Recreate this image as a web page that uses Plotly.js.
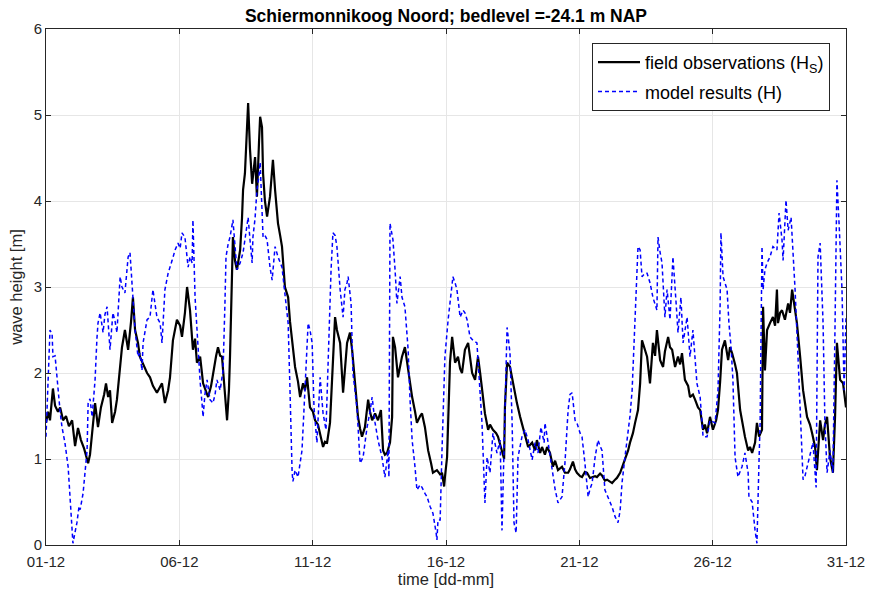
<!DOCTYPE html>
<html>
<head>
<meta charset="utf-8">
<script src="https://cdn.plot.ly/plotly-3.0.1.min.js"></script>
<style>html,body{margin:0;padding:0;background:#fff;}#chart{width:869px;height:593px;}</style>
</head>
<body>
<div id="chart"></div>
<script>
// time in days since 01-12 00:00
const tickDays = [0, 5, 10, 15, 20, 25, 30];
const tickLabels = ['01-12', '06-12', '11-12', '16-12', '21-12', '26-12', '31-12'];
const yTicks = [0, 1, 2, 3, 4, 5, 6];

// field observations (Hs) [m]
const tObs = [0.00,0.08,0.15,0.26,0.34,0.45,0.53,0.64,0.75,0.86,0.98,1.09,1.20,1.31,1.43,1.50,1.58,1.65,1.76,1.84,1.95,2.06,2.18,2.25,2.33,2.40,2.48,2.59,2.66,2.78,2.85,2.96,3.08,3.19,3.26,3.34,3.45,3.52,3.64,3.79,3.90,4.01,4.16,4.28,4.35,4.46,4.58,4.65,4.76,4.91,5.03,5.10,5.21,5.29,5.40,5.51,5.59,5.66,5.78,5.89,6.00,6.08,6.19,6.26,6.38,6.45,6.53,6.60,6.68,6.79,6.86,6.90,7.01,7.09,7.16,7.28,7.35,7.39,7.46,7.54,7.58,7.65,7.73,7.84,7.91,7.99,8.03,8.10,8.14,8.21,8.29,8.40,8.48,8.51,8.59,8.70,8.78,8.85,8.96,9.08,9.15,9.23,9.34,9.45,9.53,9.64,9.71,9.79,9.90,10.01,10.09,10.20,10.28,10.39,10.46,10.54,10.65,10.73,10.84,10.91,11.03,11.14,11.29,11.40,11.48,11.59,11.70,11.78,11.85,11.96,12.08,12.15,12.23,12.34,12.45,12.56,12.64,12.71,12.79,12.90,12.98,13.01,13.09,13.20,13.28,13.35,13.46,13.58,13.65,13.73,13.84,13.91,14.03,14.10,14.21,14.33,14.44,14.51,14.66,14.78,14.85,14.93,14.96,15.04,15.08,15.15,15.23,15.34,15.45,15.53,15.60,15.71,15.83,15.90,15.98,16.09,16.20,16.28,16.35,16.46,16.58,16.65,16.76,16.88,16.95,17.10,17.18,17.21,17.29,17.40,17.51,17.66,17.78,17.89,17.96,18.08,18.23,18.34,18.41,18.53,18.60,18.71,18.79,18.90,19.01,19.09,19.20,19.35,19.46,19.58,19.65,19.76,19.84,19.91,20.03,20.10,20.21,20.29,20.40,20.48,20.59,20.66,20.78,20.85,20.96,21.04,21.15,21.23,21.34,21.41,21.53,21.60,21.71,21.83,21.90,22.01,22.09,22.20,22.28,22.35,22.46,22.54,22.65,22.76,22.84,22.91,23.03,23.14,23.21,23.33,23.40,23.48,23.59,23.70,23.78,23.85,23.96,24.08,24.15,24.26,24.34,24.45,24.53,24.64,24.71,24.79,24.90,25.01,25.13,25.20,25.28,25.35,25.46,25.58,25.65,25.73,25.84,25.91,26.03,26.14,26.21,26.33,26.40,26.48,26.59,26.66,26.74,26.85,26.89,26.96,27.04,27.15,27.26,27.34,27.41,27.45,27.53,27.60,27.71,27.83,27.90,27.98,28.05,28.16,28.28,28.39,28.54,28.65,28.73,28.84,28.91,29.03,29.14,29.21,29.29,29.40,29.51,29.59,29.66,29.78,29.89,30.00];
const hObs = [1.42,1.55,1.45,1.82,1.62,1.55,1.60,1.45,1.50,1.38,1.45,1.15,1.36,1.22,1.12,1.05,0.95,1.05,1.40,1.65,1.37,1.60,1.75,1.88,1.72,1.80,1.42,1.55,1.69,2.05,2.30,2.50,2.27,2.60,2.88,2.50,2.35,2.19,2.10,2.00,1.95,1.85,1.77,1.85,1.88,1.65,1.80,1.95,2.38,2.62,2.55,2.42,2.70,3.00,2.73,2.27,2.40,2.12,2.19,1.88,1.80,1.72,1.85,2.00,2.20,2.30,2.20,2.19,1.90,1.45,1.80,2.19,3.58,3.30,3.20,3.43,3.80,4.13,4.32,4.90,5.14,4.60,4.20,4.51,4.05,4.70,4.98,4.86,4.32,4.00,3.82,4.05,4.30,4.48,4.13,3.74,3.60,3.47,3.00,2.88,2.60,2.35,2.07,1.90,1.72,1.88,1.80,1.95,1.60,1.55,1.45,1.40,1.30,1.14,1.20,1.19,1.42,2.00,2.65,2.50,2.35,1.77,2.35,2.47,2.27,1.88,1.49,1.35,1.26,1.37,1.69,1.55,1.45,1.53,1.45,1.57,1.10,1.05,1.07,1.19,1.49,2.42,2.30,1.95,2.10,2.19,2.30,2.03,1.90,1.72,1.55,1.42,1.50,1.53,1.37,1.10,0.95,0.84,0.87,0.82,0.84,0.68,0.79,1.02,1.42,2.12,2.42,2.12,2.19,2.05,2.00,2.27,2.35,2.15,2.00,1.92,2.19,2.00,1.80,1.53,1.34,1.40,1.34,1.30,1.26,1.10,1.00,1.60,2.12,2.07,1.88,1.65,1.49,1.35,1.26,1.14,1.19,1.10,1.22,1.07,1.14,1.05,1.14,1.07,0.91,0.98,0.87,0.91,0.84,0.84,0.88,0.97,0.88,0.84,0.80,0.79,0.85,0.84,0.78,0.79,0.80,0.79,0.83,0.81,0.75,0.76,0.74,0.72,0.76,0.78,0.84,0.90,0.99,1.10,1.19,1.30,1.42,1.57,1.88,2.38,2.27,2.19,1.88,2.35,2.20,2.50,2.15,2.07,2.25,2.42,2.30,2.27,2.07,2.19,2.10,2.23,1.92,1.85,1.72,1.75,1.69,1.60,1.57,1.34,1.40,1.30,1.49,1.34,1.45,1.57,1.90,2.27,2.38,2.15,2.30,2.23,2.10,2.00,1.57,1.35,1.26,1.10,1.14,1.07,1.19,1.42,1.26,1.34,2.77,2.03,2.50,2.58,2.65,2.55,2.97,2.58,2.70,2.73,2.62,2.81,2.70,2.97,2.81,2.58,2.19,1.80,1.49,1.40,1.30,1.14,0.87,1.45,1.22,1.40,1.49,1.02,0.84,1.50,2.35,1.92,1.88,1.60];

// model results (H) [m]
const tMod = [0.00,0.08,0.15,0.23,0.26,0.34,0.41,0.45,0.53,0.60,0.71,0.83,0.90,0.98,1.01,1.09,1.16,1.24,1.28,1.39,1.46,1.54,1.58,1.65,1.73,1.84,1.91,1.95,2.03,2.14,2.21,2.29,2.40,2.51,2.59,2.66,2.78,2.85,2.96,3.08,3.15,3.23,3.34,3.45,3.52,3.60,3.64,3.79,3.90,4.01,4.09,4.16,4.28,4.35,4.46,4.58,4.73,4.84,4.95,5.03,5.10,5.21,5.33,5.40,5.48,5.51,5.59,5.70,5.78,5.85,5.89,5.96,6.04,6.15,6.26,6.34,6.41,6.53,6.60,6.64,6.71,6.75,6.83,6.90,7.01,7.09,7.16,7.28,7.39,7.46,7.58,7.65,7.73,7.76,7.84,7.91,7.99,8.03,8.10,8.14,8.21,8.29,8.40,8.48,8.59,8.70,8.85,8.96,9.08,9.15,9.19,9.23,9.26,9.34,9.45,9.53,9.60,9.71,9.83,9.90,9.98,10.05,10.16,10.28,10.39,10.50,10.61,10.69,10.76,10.84,10.91,11.03,11.14,11.21,11.29,11.33,11.44,11.51,11.66,11.78,11.89,12.04,12.15,12.23,12.34,12.45,12.60,12.71,12.83,12.86,12.90,13.01,13.09,13.16,13.28,13.35,13.46,13.58,13.65,13.73,13.84,13.91,14.03,14.10,14.21,14.29,14.40,14.51,14.63,14.66,14.70,14.78,14.85,14.96,15.08,15.15,15.26,15.34,15.41,15.53,15.64,15.71,15.79,15.90,16.01,16.16,16.20,16.28,16.35,16.46,16.54,16.65,16.76,16.91,17.03,17.10,17.18,17.21,17.29,17.40,17.48,17.55,17.63,17.70,17.85,17.96,18.08,18.23,18.34,18.45,18.56,18.68,18.71,18.83,18.90,19.01,19.09,19.20,19.35,19.46,19.58,19.65,19.73,19.84,19.91,20.03,20.10,20.21,20.33,20.40,20.48,20.59,20.70,20.78,20.85,20.96,21.08,21.15,21.23,21.34,21.45,21.53,21.60,21.71,21.83,21.90,21.98,22.09,22.16,22.20,22.28,22.35,22.46,22.54,22.65,22.76,22.91,22.95,23.03,23.10,23.21,23.29,23.40,23.51,23.63,23.70,23.81,23.89,24.04,24.15,24.26,24.41,24.53,24.64,24.79,24.90,25.09,25.20,25.28,25.31,25.39,25.54,25.61,25.69,25.76,25.84,25.95,26.10,26.21,26.33,26.36,26.48,26.59,26.66,26.74,26.78,26.85,26.89,26.96,27.04,27.15,27.26,27.41,27.49,27.60,27.64,27.75,27.83,27.94,28.01,28.09,28.20,28.31,28.39,28.46,28.54,28.65,28.76,28.88,28.95,29.03,29.14,29.21,29.29,29.40,29.51,29.59,29.66,29.74,29.85,29.93,30.00];
const hMod = [1.26,1.90,2.50,2.45,2.19,2.20,1.95,1.80,1.55,1.37,1.19,0.91,0.55,0.26,0.02,0.15,0.26,0.45,0.41,0.60,0.85,1.10,1.65,1.70,1.49,1.92,2.40,2.58,2.70,2.47,2.68,2.77,2.27,2.70,2.60,2.47,3.12,3.00,2.93,3.35,3.40,2.97,2.50,2.19,2.23,2.03,2.35,2.62,2.65,2.97,2.80,2.65,2.58,2.35,2.97,3.16,3.31,3.43,3.51,3.45,3.63,3.58,3.23,3.35,3.28,3.78,2.88,2.27,1.90,1.65,1.49,1.75,1.92,1.69,1.65,1.75,1.92,1.80,1.95,2.03,2.80,3.35,3.50,3.58,3.78,3.40,3.20,3.28,3.40,3.55,3.81,3.55,3.28,3.58,3.80,4.13,4.30,4.45,4.00,3.58,3.60,3.55,3.23,3.08,3.47,3.35,3.23,2.93,2.58,1.80,1.20,0.84,0.74,0.87,0.79,0.95,1.10,1.80,2.58,2.50,2.35,1.60,1.19,1.95,1.53,1.34,2.58,3.20,3.63,3.60,3.47,2.97,2.65,2.97,3.05,3.12,2.81,2.00,1.60,0.95,1.02,1.37,1.55,1.72,1.42,1.22,1.02,0.79,1.10,0.79,3.74,3.55,3.20,2.81,3.12,2.88,2.77,2.27,1.70,1.22,0.90,0.64,0.70,0.67,0.60,0.56,0.45,0.37,0.14,0.06,0.29,0.29,1.10,2.19,2.62,2.80,3.12,3.05,2.97,2.65,2.73,2.70,2.62,2.42,2.38,2.35,2.12,1.80,1.42,0.49,1.02,0.84,1.30,1.07,1.22,0.17,1.20,1.80,2.53,2.23,1.42,0.26,0.14,1.02,1.26,1.34,1.22,0.99,1.19,1.07,1.37,1.19,1.42,1.19,1.05,0.84,0.65,0.49,0.56,0.95,1.57,1.75,1.77,1.45,1.42,1.30,1.26,0.95,0.56,0.65,0.72,1.02,1.22,1.15,1.10,0.64,0.56,0.50,0.44,0.33,0.26,0.40,0.72,1.02,1.34,1.50,1.80,2.58,3.10,3.47,3.43,3.12,3.16,3.16,3.05,2.88,2.73,3.58,3.40,3.28,2.65,2.97,2.62,3.35,2.81,2.47,2.88,2.35,2.65,2.19,2.50,1.88,1.72,1.26,1.26,1.45,1.42,1.80,2.80,3.63,3.12,2.97,2.58,2.30,1.92,1.02,0.79,0.91,1.07,0.84,0.56,0.50,0.17,0.02,1.00,1.42,3.47,2.97,3.20,3.28,3.35,3.47,3.43,3.86,3.55,3.31,4.01,3.66,3.81,3.47,2.97,2.19,1.42,0.76,0.80,0.91,1.07,1.19,0.67,3.35,3.51,2.58,1.42,0.84,1.10,0.84,2.58,4.24,3.74,2.97,1.80,2.65];

const FONT = 'Liberation Sans, Arial, Helvetica, sans-serif';
const TXT = '#262626';

const traces = [
  {
    x: tObs, y: hObs, type: 'scatter', mode: 'lines',
    name: 'field observations (H<sub>S</sub>)', legendgroup: 'obs',
    line: {color: '#000000', width: 2.2}
  },
  {
    x: tMod, y: hMod, type: 'scatter', mode: 'lines',
    name: 'model results (H)', legendgroup: 'mod',
    line: {color: '#0000ff', width: 1.5, dash: '4px,3px'}
  }
];

const axisCommon = {
  showline: true, linecolor: TXT, linewidth: 1, mirror: 'ticks',
  ticks: 'inside', ticklen: 5, tickcolor: TXT, tickwidth: 1,
  showgrid: true, gridcolor: '#e6e6e6', gridwidth: 1, zeroline: false,
  tickfont: {family: FONT, size: 15, color: TXT}
};

const layout = {
  width: 869, height: 593,
  margin: {l: 46, r: 23, t: 29, b: 48},
  paper_bgcolor: '#ffffff', plot_bgcolor: '#ffffff',
  title: {
    text: '<b>Schiermonnikoog Noord; bedlevel =-24.1 m NAP</b>',
    font: {family: FONT, size: 17.5, color: '#000000'},
    x: 0.5, xref: 'paper', xanchor: 'center',
    y: 1 - 16 / 593, yref: 'container', yanchor: 'middle'
  },
  xaxis: Object.assign({}, axisCommon, {
    range: [0, 30], tickmode: 'array', tickvals: tickDays, ticktext: tickLabels,
    ticklabelstandoff: 3,
    title: {text: 'time [dd-mm]', font: {family: FONT, size: 16.5, color: TXT}, standoff: 4}
  }),
  yaxis: Object.assign({}, axisCommon, {
    range: [0, 6], tickmode: 'array', tickvals: yTicks,
    title: {text: 'wave height [m]', font: {family: FONT, size: 16.5, color: TXT}, standoff: 6}
  }),
  showlegend: true,
  legend: {
    x: (830 - 46) / 800, xanchor: 'right', xref: 'paper',
    y: (545 - 43) / 516, yanchor: 'top', yref: 'paper',
    bgcolor: '#ffffff', bordercolor: '#262626', borderwidth: 1,
    font: {family: FONT, size: 18, color: '#000000'},
    traceorder: 'grouped', tracegroupgap: 3, itemwidth: 42
  },
  hovermode: false
};

Plotly.newPlot('chart', traces, layout, {staticPlot: true, displayModeBar: false});
</script>
</body>
</html>
